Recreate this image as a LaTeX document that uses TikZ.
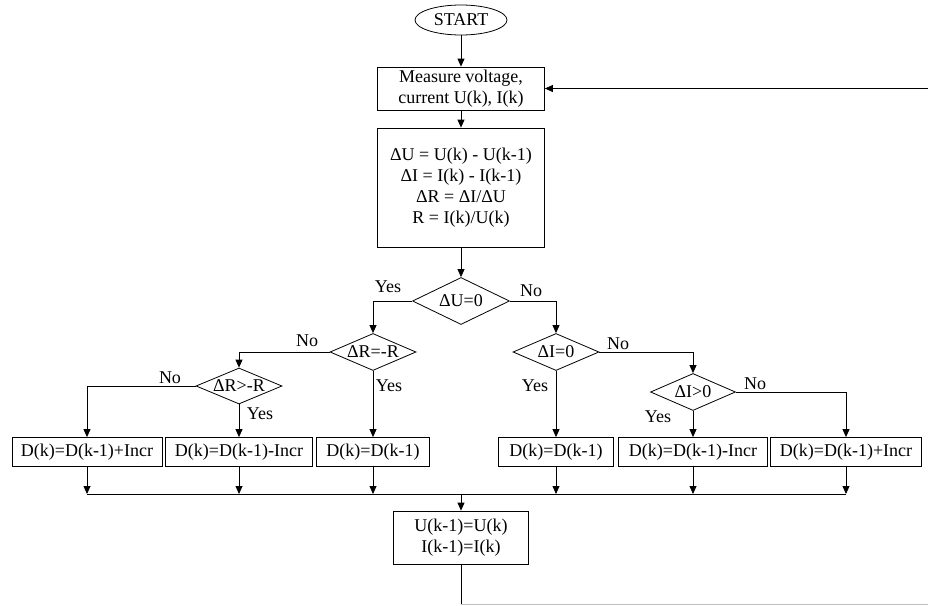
\documentclass[tikz,border=0pt]{standalone}
\usepackage{fontspec}
\setmainfont{Liberation Serif}
\usetikzlibrary{shapes.geometric,arrows.meta}

\tikzset{
  startnode/.style={draw, ellipse, minimum width=92pt, minimum height=30pt, inner sep=0pt},
  procbox/.style={draw, rectangle, align=center, inner sep=0pt},
  decide/.style={draw, diamond, aspect=2.3, inner sep=-2pt},
  arr/.style={-{Triangle[length=8pt,width=7pt]}},
  lbl/.style={inner sep=0pt},
}

\begin{document}
\begin{tikzpicture}[x=1pt, y=-1pt, line width=0.8pt, font=\fontsize{18}{21}\selectfont]
  % Fix the page size
  \useasboundingbox (0,0) rectangle (928,605);

  % Top part of the chart
  \node[startnode] (start) at (461,20) {START};
  \node[procbox, minimum width=167pt, minimum height=43pt] (meas) at (461,88.5)
    {Measure voltage,\\current U(k), I(k)};
  \node[procbox, minimum width=167pt, minimum height=119pt] (calc) at (461,187.5)
    {ΔU = U(k) - U(k-1)\\ΔI = I(k) - I(k-1)\\ΔR = ΔI/ΔU\\R = I(k)/U(k)};

  % Decisions
  \node[decide, minimum width=97pt, minimum height=47pt] (du) at (461,301) {ΔU=0};
  \node[decide, minimum width=86pt, minimum height=37pt] (dr) at (373,352) {ΔR=-R};
  \node[decide, minimum width=86pt, minimum height=36pt] (drg) at (239,386) {ΔR>-R};
  \node[decide, minimum width=86pt, minimum height=37pt] (di) at (556,352) {ΔI=0};
  \node[decide, minimum width=85pt, minimum height=37pt] (dig) at (693,392) {ΔI>0};

  % Duty cycle updates
  \foreach \i/\x/\w/\t in {1/87/150/{D(k)=D(k-1)+Incr}, 2/239/147/{D(k)=D(k-1)-Incr},
      3/373/113/{D(k)=D(k-1)}, 4/556/115/{D(k)=D(k-1)},
      5/693/149/{D(k)=D(k-1)-Incr}, 6/846/151/{D(k)=D(k-1)+Incr}} {
    \node[procbox, minimum width=\w pt, minimum height=29pt] (b\i) at (\x,452) {\t};
  }

  \node[procbox, minimum width=135pt, minimum height=53pt] (upd) at (461,537.5)
    {U(k-1)=U(k)\\I(k-1)=I(k)};

  % Main flow
  \draw[arr] (start) -- (meas);
  \draw[arr] (meas) -- (calc);
  \draw[arr] (calc) -- (du);

  % Branches
  \draw[arr] (du.west) -| (dr.north);
  \draw[arr] (du.east) -| (di.north);
  \draw[arr] (dr.west) -| (drg.north);
  \draw[arr] (dr.south) -- (b3.north);
  \draw[arr] (drg.west) -| (b1.north);
  \draw[arr] (drg.south) -- (b2.north);
  \draw[arr] (di.south) -- (b4.north);
  \draw[arr] (di.east) -| (dig.north);
  \draw[arr] (dig.south) -- (b5.north);
  \draw[arr] (dig.east) -| (b6.north);

  % Branch labels
  \node[lbl] (l1) at (388,287) {Yes};
  \node[lbl] (l2) at (531,291) {No};
  \node[lbl] (l3) at (307,341) {No};
  \node[lbl] (l4) at (389,386) {Yes};
  \node[lbl] (l5) at (170,378) {No};
  \node[lbl] (l6) at (260,414) {Yes};
  \node[lbl] (l7) at (618,344) {No};
  \node[lbl] (l8) at (535,386) {Yes};
  \node[lbl] (l9) at (755,384) {No};
  \node[lbl] (l10) at (658,417) {Yes};

  % Collecting line
  \coordinate (bus) at (461,494);
  \foreach \i in {1,...,6} {
    \draw[arr] (b\i.south) -- (b\i.south |- bus);
  }
  \draw (b1.south |- bus) -- (b6.south |- bus);
  \draw[arr] (bus) -- (upd);

  % Loop back
  \coordinate (ret) at (928,88.5);
  \coordinate (bot) at (461,604);
  \draw[arr] (ret) -- (meas.east);
  \draw (upd) -- (bot);
  \draw[black!25] (bot) -- (928,604);

\end{tikzpicture}
\end{document}
